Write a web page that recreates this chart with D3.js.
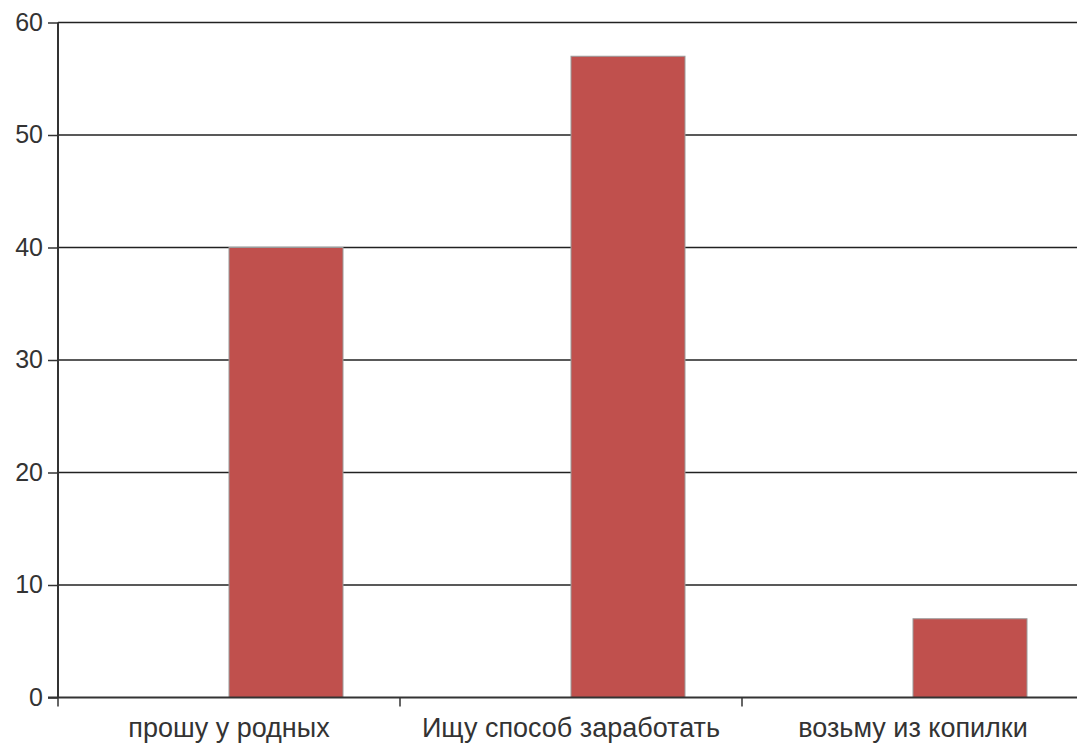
<!DOCTYPE html>
<html><head><meta charset="utf-8">
<script src="https://cdn.jsdelivr.net/npm/d3@7"></script>
<style>
html,body{margin:0;padding:0;background:#fff;}
svg{display:block;}
text{font-family:"Liberation Sans",Arial,sans-serif;fill:#333;}
</style></head>
<body><svg id="c" width="1077" height="745"></svg>
<script>
const categories = ["прошу у родных", "Ищу способ заработать", "возьму из копилки"];
const seriesNames = ["Ряд 1", "Ряд 2"];
const series1 = [null, null, null];
const series2 = [40, 57, 7];
const yTicks = [0, 10, 20, 30, 40, 50, 60];

const svg = d3.select("#c");
const mLeft = 58, mTop = 22.5, mBottom = 697.5;
const bandW = 342;
const x = d3.scaleBand().domain(categories).range([mLeft, mLeft + bandW * categories.length]).padding(0);
const xs = d3.scaleBand().domain(seriesNames).range([0, x.bandwidth()]).paddingInner(0).paddingOuter(0.5);
const y = d3.scaleLinear().domain([0, 60]).range([mBottom, mTop]);

// gridlines
svg.append("g").selectAll("line").data(yTicks.filter(t => t > 0)).join("line")
  .attr("x1", mLeft).attr("x2", 1077)
  .attr("y1", d => y(d)).attr("y2", d => y(d))
  .attr("stroke", "#222").attr("stroke-width", 1.5);

// bars
const rows = categories.map((c, i) => ({c, vals: [series1[i], series2[i]]}));
const g = svg.append("g");
rows.forEach(r => {
  r.vals.forEach((v, j) => {
    if (v == null) return;
    g.append("rect")
      .attr("x", x(r.c) + xs(seriesNames[j]))
      .attr("y", y(v))
      .attr("width", xs.bandwidth())
      .attr("height", y(0) - y(v))
      .attr("fill", "#C0504D")
      .attr("stroke", "#9a9a9a").attr("stroke-width", 1);
  });
});

// y axis
const yAxis = svg.append("g").attr("transform", `translate(${mLeft},0)`)
  .call(d3.axisLeft(y).tickValues(yTicks).tickSize(10).tickPadding(5).tickFormat(d3.format("d")));
yAxis.select(".domain").attr("stroke", "#333").attr("stroke-width", 2).attr("d", `M0,${mTop}V${mBottom}`);
yAxis.selectAll(".tick line").attr("stroke", "#333").attr("stroke-width", 1.5);
yAxis.selectAll("text").attr("font-size", 25).attr("fill", "#333").attr("dy", "0.3em")
  .attr("font-family", "Liberation Sans, Arial, sans-serif");

// x axis
const xAxisG = svg.append("g").attr("transform", `translate(0,${mBottom})`);
xAxisG.append("line").attr("x1", mLeft - 10).attr("x2", 1077).attr("y1", 0).attr("y2", 0)
  .attr("stroke", "#333").attr("stroke-width", 2);
const bounds = categories.map(c => x(c));
xAxisG.selectAll("line.tk").data(bounds).join("line").attr("class", "tk")
  .attr("x1", d => d).attr("x2", d => d).attr("y1", 0).attr("y2", 9)
  .attr("stroke", "#333").attr("stroke-width", 1.5);
xAxisG.selectAll("text").data(categories).join("text")
  .attr("x", d => x(d) + x.bandwidth() / 2).attr("y", 39.5)
  .attr("text-anchor", "middle").attr("font-size", 27).text(d => d);
</script></body></html>
